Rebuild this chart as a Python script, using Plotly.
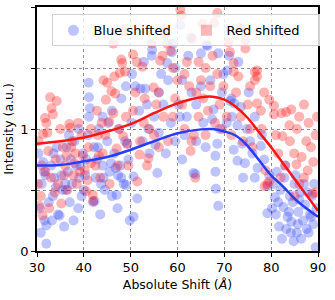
import plotly.graph_objects as go

# ---------------- data ----------------
blue_x = [30.3,30.6,31.0,31.3,31.6,32.0,32.0,32.5,33.0,33.4,33.7,34.2,34.5,34.8,35.0,35.5,36.0,36.3,36.6,37.0,37.5,38.0,38.4,38.8,39.0,39.5,39.8,30.8,33.2,35.8,37.8,31.8,36.8,38.9,
          40.0,40.5,40.9,41.1,41.1,41.0,41.3,42.0,42.3,42.5,43.0,43.2,43.5,44.0,44.2,44.5,45.0,45.2,45.5,46.0,46.5,47.0,47.2,47.5,48.0,48.5,48.8,49.0,49.5,49.8,50.3,46.0,48.0,44.0,49.0,42.8,47.8,
          50.2,50.6,50.6,51.0,51.4,52.1,53.1,53.5,54.5,54.6,55.3,55.7,56.0,57.0,57.8,58.6,58.8,59.0,60.6,60.2,52.5,53.8,55.0,56.5,57.5,59.5,51.8,54.0,56.0,58.0,59.5,52.8,
          60.5,61.0,61.5,62.3,62.8,63.4,63.8,64.0,64.0,65.0,65.5,66.2,66.4,67.4,67.7,68.1,68.1,68.2,68.5,68.7,68.7,69.0,69.5,62.0,63.0,66.0,67.0,61.0,65.0,69.8,
          70.6,71.0,71.3,71.5,71.6,72.0,72.1,72.8,72.8,73.0,73.5,74.4,74.8,75.5,76.0,76.5,77.1,77.8,78.5,79.2,79.2,79.6,70.5,73.8,75.2,78.0,76.5,74.0,
          80.5,80.8,81.2,81.7,82.0,82.3,82.6,83.0,83.5,84.0,84.3,84.6,85.0,85.5,85.8,86.2,86.4,86.8,87.2,87.6,88.0,88.3,88.7,89.0,89.5,89.7,81.0,83.2,85.2,87.0,89.2,84.8,82.8,
          31.5,33.5,35.2,37.2,39.3,42.2,45.8,47.3,49.3,36.2,34.0,40.3,43.7,46.8,81.5,83.8,86.0,88.5,84.2,87.8,80.2,85.7]
blue_y = [0.80,0.35,0.55,0.73,0.25,0.06,0.21,0.40,0.70,0.45,0.60,0.85,0.30,0.29,0.75,0.50,0.55,0.85,0.65,0.40,0.55,0.90,0.70,0.35,0.60,0.45,0.80,0.15,0.25,0.20,0.25,0.62,0.95,1.00,
          0.50,0.75,0.95,1.10,1.26,1.38,1.17,0.40,0.41,0.60,0.85,1.00,0.30,0.70,0.60,0.50,0.90,1.05,0.65,0.45,0.80,0.46,0.35,1.00,0.60,0.55,0.90,0.54,0.75,0.25,1.45,1.15,1.25,1.10,1.35,0.75,0.70,
          1.05,0.28,0.61,1.35,0.43,1.33,1.33,1.20,1.60,1.65,0.87,0.64,0.97,1.20,1.54,1.05,1.63,1.70,1.85,1.20,0.90,1.00,1.10,1.45,0.80,0.90,1.15,0.80,1.30,1.40,1.50,1.55,
          1.10,1.40,0.95,1.60,1.75,0.64,0.63,0.90,1.20,1.62,1.05,1.69,1.68,1.08,1.16,0.65,0.78,0.51,0.88,0.37,1.62,1.00,1.30,1.10,1.30,0.85,1.40,0.75,1.35,1.45,
          1.48,1.60,1.23,1.25,1.10,0.83,1.21,0.74,1.03,1.55,1.18,0.72,1.00,0.90,0.80,1.10,0.68,0.86,0.75,0.53,0.31,0.62,1.05,0.88,1.30,0.95,0.60,0.60,
          0.55,0.44,0.65,0.20,0.50,0.10,0.36,0.70,0.28,0.45,0.24,0.40,0.55,0.15,0.32,0.48,0.10,0.25,0.38,0.18,0.15,0.30,0.45,0.22,0.03,0.35,0.30,0.18,0.62,0.55,0.55,0.08,0.60,
          0.65,0.80,0.62,0.75,0.70,0.85,0.72,0.62,0.88,0.50,0.52,0.62,0.55,0.68,0.40,0.32,0.42,0.28,0.15,0.48,0.35,0.22]

red_x = [30.3,30.5,31.2,30.8,31.3,31.7,32.0,32.2,32.4,32.8,33.1,33.4,34.2,34.0,34.5,35.2,35.5,36.0,36.9,37.1,37.5,37.8,38.2,38.5,39.2,39.5,33.0,36.5,31.0,35.0,38.8,
         40.5,40.2,41.0,41.5,41.9,42.0,42.5,43.0,43.5,44.2,44.7,45.0,45.4,45.9,46.3,46.3,46.5,46.7,47.0,47.7,48.0,48.2,48.4,48.5,48.8,49.0,49.5,44.0,45.5,42.8,47.5,43.8,
         50.5,51.3,51.4,51.9,52.0,52.5,53.5,53.8,54.9,55.5,56.0,56.3,56.8,57.4,57.8,58.5,59.0,59.5,60.0,50.5,52.8,54.0,55.0,57.0,58.0,53.0,56.0,59.0,51.0,54.5,
         60.6,60.8,61.0,61.5,62.0,62.8,63.2,63.8,64.0,64.5,65.0,65.3,65.5,66.0,66.5,67.0,67.8,68.0,68.5,68.5,69.0,69.5,61.5,62.5,63.5,66.0,67.5,64.5,69.8,63.0,
         70.9,71.2,72.0,72.0,72.5,73.0,73.4,73.5,74.5,74.5,75.0,75.5,76.5,76.5,77.0,77.0,77.0,77.8,78.5,78.6,78.8,79.2,79.6,79.6,70.5,71.5,74.0,76.0,78.0,75.5,
         80.6,80.6,81.0,82.2,82.4,83.2,83.9,84.0,84.3,84.9,85.4,85.5,86.0,86.5,87.0,87.5,87.8,88.0,88.5,88.8,89.0,89.5,89.5,81.5,83.0,86.0,82.0,85.0,89.8,87.0,
         31.8,33.8,36.3,38.0,40.8,43.2,30.2,35.8,39.8,41.5,44.6,47.2,49.2,32.6,37.3]
red_y = [0.90,0.37,0.29,0.45,0.96,1.09,1.05,0.97,0.82,1.26,1.17,1.12,1.23,0.75,0.55,0.39,0.85,0.70,1.04,1.01,0.90,0.62,0.80,0.55,0.65,0.95,0.60,0.50,0.70,1.00,1.05,
         0.49,0.66,0.85,1.00,0.46,0.41,0.70,0.95,0.60,1.40,1.24,1.38,1.06,1.31,1.13,1.70,1.43,1.29,0.84,1.46,1.57,1.54,0.94,1.80,1.47,1.10,0.70,0.80,0.55,1.15,1.00,1.05,
         1.61,1.55,0.57,0.79,0.90,1.51,0.70,0.76,1.34,1.20,1.30,1.56,1.60,1.79,1.70,1.64,1.10,1.25,1.40,1.15,1.05,1.00,0.95,1.10,0.90,1.25,0.85,1.50,1.30,1.70,
         1.98,1.93,1.20,1.45,1.55,0.82,1.74,0.60,1.30,1.10,1.40,1.86,1.25,1.50,1.15,1.35,1.87,1.05,1.95,1.45,1.20,1.00,1.00,1.35,0.95,0.95,1.60,1.55,1.35,0.90,
         1.71,1.63,1.54,1.47,1.30,1.43,1.83,1.10,1.73,1.66,1.20,1.00,1.40,1.47,1.48,1.43,1.21,1.15,1.30,0.53,0.66,0.55,1.24,0.57,1.10,0.95,0.90,0.85,1.00,1.35,
         1.19,1.12,0.95,1.13,0.94,1.14,1.03,0.90,1.16,0.80,0.71,1.00,1.10,0.77,0.60,0.90,0.66,1.05,0.85,0.47,0.73,0.48,0.95,0.80,0.70,0.55,0.60,0.45,1.10,1.20,
         0.65,0.48,0.78,0.72,0.58,0.78,0.55,0.62,0.78,0.72,0.95,0.70,0.88,0.35,0.85]

fit_x = [30, 35, 40, 45, 50, 55, 60, 65, 67.5, 70, 72.5, 75, 77.5, 80, 82.5, 85, 87.5, 90]
blue_fit = [0.70, 0.705, 0.735, 0.77, 0.83, 0.90, 0.965, 0.997, 1.00, 0.98, 0.945, 0.86, 0.74, 0.62, 0.53, 0.43, 0.35, 0.28]
red_fit = [0.88, 0.90, 0.93, 0.98, 1.04, 1.13, 1.21, 1.26, 1.265, 1.24, 1.18, 1.09, 0.97, 0.85, 0.72, 0.59, 0.46, 0.33]

x_ticks = [30, 40, 50, 60, 70, 80, 90]
y_ticks = [0, 0.5, 1, 1.5, 2]
y_ticktext = ["0", "", "1", "", "2"]

BLUE = "rgb(40,60,255)"
RED = "rgb(255,20,20)"

fig = go.Figure()
fig.add_trace(go.Scatter(x=blue_x, y=blue_y, mode="markers", showlegend=False,
                         marker=dict(color=BLUE, size=10, opacity=0.3, line=dict(width=0))))
fig.add_trace(go.Scatter(x=red_x, y=red_y, mode="markers", showlegend=False,
                         marker=dict(color=RED, size=10, opacity=0.32, line=dict(width=0))))
fig.add_trace(go.Scatter(x=fit_x, y=blue_fit, mode="lines", showlegend=False,
                         line=dict(color=BLUE, width=2.5, shape="spline")))
fig.add_trace(go.Scatter(x=fit_x, y=red_fit, mode="lines", showlegend=False,
                         line=dict(color=RED, width=2.5, shape="spline")))
# legend entries
fig.add_trace(go.Scatter(x=[None], y=[None], mode="markers", name="Blue shifted",
                         marker=dict(color=BLUE, size=11, opacity=0.3, symbol="circle")))
fig.add_trace(go.Scatter(x=[None], y=[None], mode="markers", name="Red shifted",
                         marker=dict(color=RED, size=11, opacity=0.3, symbol="square")))

axis_common = dict(showline=True, mirror=True, linecolor="black", linewidth=1.5,
                   ticks="outside", ticklen=4, tickwidth=1.2, tickcolor="black",
                   showgrid=True, gridcolor="rgb(140,140,140)", griddash="dot", gridwidth=1,
                   zeroline=False, automargin=False, tickfont=dict(size=13, color="black"))

fig.update_layout(
    width=335, height=300,
    margin=dict(l=37, r=17, t=7, b=49),
    paper_bgcolor="white", plot_bgcolor="white",
    font=dict(family="DejaVu Sans", size=13, color="black"),
    xaxis=dict(range=[30, 90], tickvals=x_ticks,
               title=dict(text="Absolute Shift (<i>Å</i>)", font=dict(size=12.5), standoff=6),
               **axis_common),
    yaxis=dict(range=[0, 2], tickvals=y_ticks, ticktext=y_ticktext,
               title=dict(text="Intensity (a.u.)", font=dict(size=12.5), standoff=4), **axis_common),
    legend=dict(orientation="h", x=0.055, y=0.97, xanchor="left", yanchor="top",
                bgcolor="rgba(255,255,255,0.8)", bordercolor="rgb(210,210,210)", borderwidth=1,
                font=dict(size=13), entrywidth=88, entrywidthmode="pixels",
                itemwidth=30),
)

fig.write_html("out.html", config={"displayModeBar": False},
               post_script="document.body.style.margin='0';")
